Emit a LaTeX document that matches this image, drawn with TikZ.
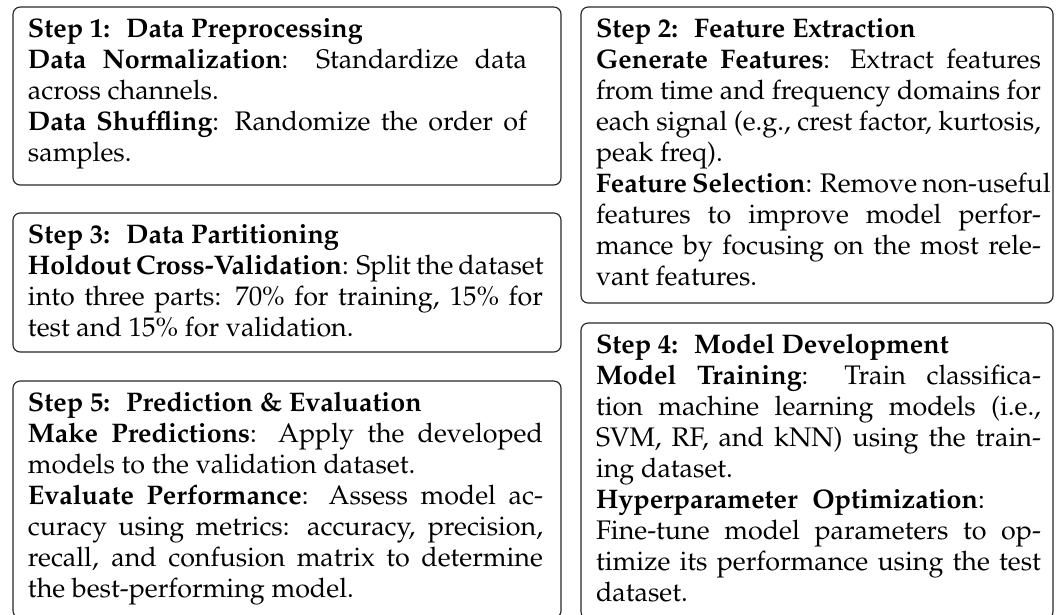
\documentclass[tikz,border=0pt]{standalone}
\usepackage[T1]{fontenc}
\usepackage{mathpazo}
\newcommand\JL[1]{\hbox to\hsize{#1}}
\newcommand\NL[1]{\hbox{#1}}
\newcommand\stepblock[2]{\vtop{\hsize=#1\relax\baselineskip=12pt\relax #2}}
\newcommand\sgap{\hspace{0.6em}}
\newcommand\B[1]{{\fontsize{10.4}{12}\selectfont\bfseries #1}}
\begin{document}
\begin{tikzpicture}[x=0.387pt,y=-0.387pt,
  stepbox/.style={draw=black!85,line width=0.45pt,rounded corners=2.8pt,inner sep=0pt,outer sep=0pt,anchor=north west},
  steptext/.style={inner sep=0pt,outer sep=0pt,anchor=base west,font=\fontsize{10.4}{12}\selectfont}]
\useasboundingbox (0,0) rectangle (1060,614);
\node[stepbox,minimum width=212.08pt,minimum height=68.89pt] (b1) at (13,7) {};
\node[stepbox,minimum width=212.08pt,minimum height=53.79pt] (b3) at (13,213) {};
\node[stepbox,minimum width=212.08pt,minimum height=91.7pt] (b5) at (13,381) {};
\node[stepbox,minimum width=182.66pt,minimum height=114.55pt] (b2) at (581,7) {};
\node[stepbox,minimum width=182.66pt,minimum height=114.55pt] (b4) at (581,323) {};

\node[steptext] (t1) at ([shift={(15,30)}]b1.north west) {\stepblock{193.1pt}{%
\NL{\B{Step 1:\sgap Data Preprocessing}}
\JL{\B{Data Normalization}: Standardize data}
\NL{across channels.}
\JL{\B{Data Shuffling}: Randomize the order of}
\NL{samples.}}};

\node[steptext] (t3) at ([shift={(15,30)}]b3.north west) {\stepblock{199.3pt}{%
\NL{\B{Step 3:\sgap Data Partitioning}}
\JL{\B{Holdout Cross-Validation}: Split the dataset}
\JL{into three parts: 70\% for training, 15\% for}
\NL{test and 15\% for validation.}}};

\node[steptext] (t5) at ([shift={(15,30)}]b5.north west) {\stepblock{199.3pt}{%
\NL{\B{Step 5:\sgap Prediction \& Evaluation}}
\JL{\B{Make Predictions}: Apply the developed}
\NL{models to the validation dataset.}
\JL{\B{Evaluate Performance}: Assess model ac-}
\JL{curacy using metrics: accuracy, precision,}
\JL{recall, and confusion matrix to determine}
\NL{the best-performing model.}}};

\node[steptext] (t2) at ([shift={(15,30)}]b2.north west) {\stepblock{172.2pt}{%
\NL{\B{Step 2:\sgap Feature Extraction}}
\JL{\B{Generate Features}: Extract features}
\JL{from time and frequency domains for}
\JL{each signal (e.g., crest factor, kurtosis,}
\NL{peak freq).}
\JL{\B{Feature Selection}: Remove non-useful}
\JL{features to improve model perfor-}
\JL{mance by focusing on the most rele-}
\NL{vant features.}}};

\node[steptext] (t4) at ([shift={(15,30)}]b4.north west) {\stepblock{172.2pt}{%
\NL{\B{Step 4:\sgap Model Development}}
\JL{\B{Model Training}: Train classifica-}
\JL{tion machine learning models (i.e.,}
\JL{SVM, RF, and kNN) using the train-}
\NL{ing dataset.}
\NL{\B{Hyperparameter\hspace{0.55em}Optimization}:}
\JL{Fine-tune model parameters to op-}
\JL{timize its performance using the test}
\NL{dataset.}}};
\end{tikzpicture}
\end{document}
